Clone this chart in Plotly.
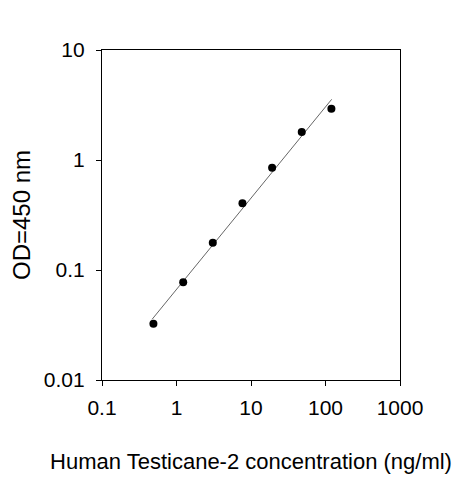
import plotly.graph_objects as go

# standard curve points (concentration vs OD)
conc = [0.49, 1.23, 3.07, 7.68, 19.2, 48, 120]
od = [0.0325, 0.0773, 0.177, 0.404, 0.851, 1.80, 2.93]

# fitted line ends
fit_x = [0.47, 121]
fit_y = [0.0356, 3.56]

x_ticks = [0.1, 1, 10, 100, 1000]
x_labels = ['0.1', '1', '10', '100', '1000']
y_ticks = [0.01, 0.1, 1, 10]
y_labels = ['0.01', '0.1', '1', '10']

fig = go.Figure()
fig.add_trace(go.Scatter(x=fit_x, y=fit_y, mode='lines',
                         line=dict(color='#666666', width=1), hoverinfo='skip'))
fig.add_trace(go.Scatter(x=conc, y=od, mode='markers',
                         marker=dict(color='black', size=8)))

font_family = 'Liberation Sans, Arial, sans-serif'
tick_font = dict(family=font_family, size=21, color='black')

# page has an 8px body margin, so margins are shifted to land the plot box right
fig.update_layout(
    width=463, height=480,
    margin=dict(l=94, r=71, t=42, b=108),
    paper_bgcolor='white', plot_bgcolor='white',
    showlegend=False,
    font=tick_font,
    xaxis=dict(type='log', range=[-1, 3], tickvals=x_ticks, ticktext=x_labels,
               ticks='outside', ticklen=5, tickcolor='black', tickfont=tick_font,
               ticklabelstandoff=4, automargin=False,
               showline=True, linecolor='black', linewidth=1.2, mirror=True,
               showgrid=False, zeroline=False,
               title=dict(text='Human Testicane-2 concentration (ng/ml)',
                          font=dict(family=font_family, size=22, color='black'),
                          standoff=35)),
    yaxis=dict(type='log', range=[-2, 1], tickvals=y_ticks, ticktext=y_labels,
               ticks='outside', ticklen=5, tickcolor='black', tickfont=tick_font,
               ticklabelstandoff=7, automargin=False,
               showline=True, linecolor='black', linewidth=1.2, mirror=True,
               showgrid=False, zeroline=False,
               title=dict(text='OD=450 nm',
                          font=dict(family=font_family, size=24, color='black'),
                          standoff=11)),
)

fig.write_html('out.html')
